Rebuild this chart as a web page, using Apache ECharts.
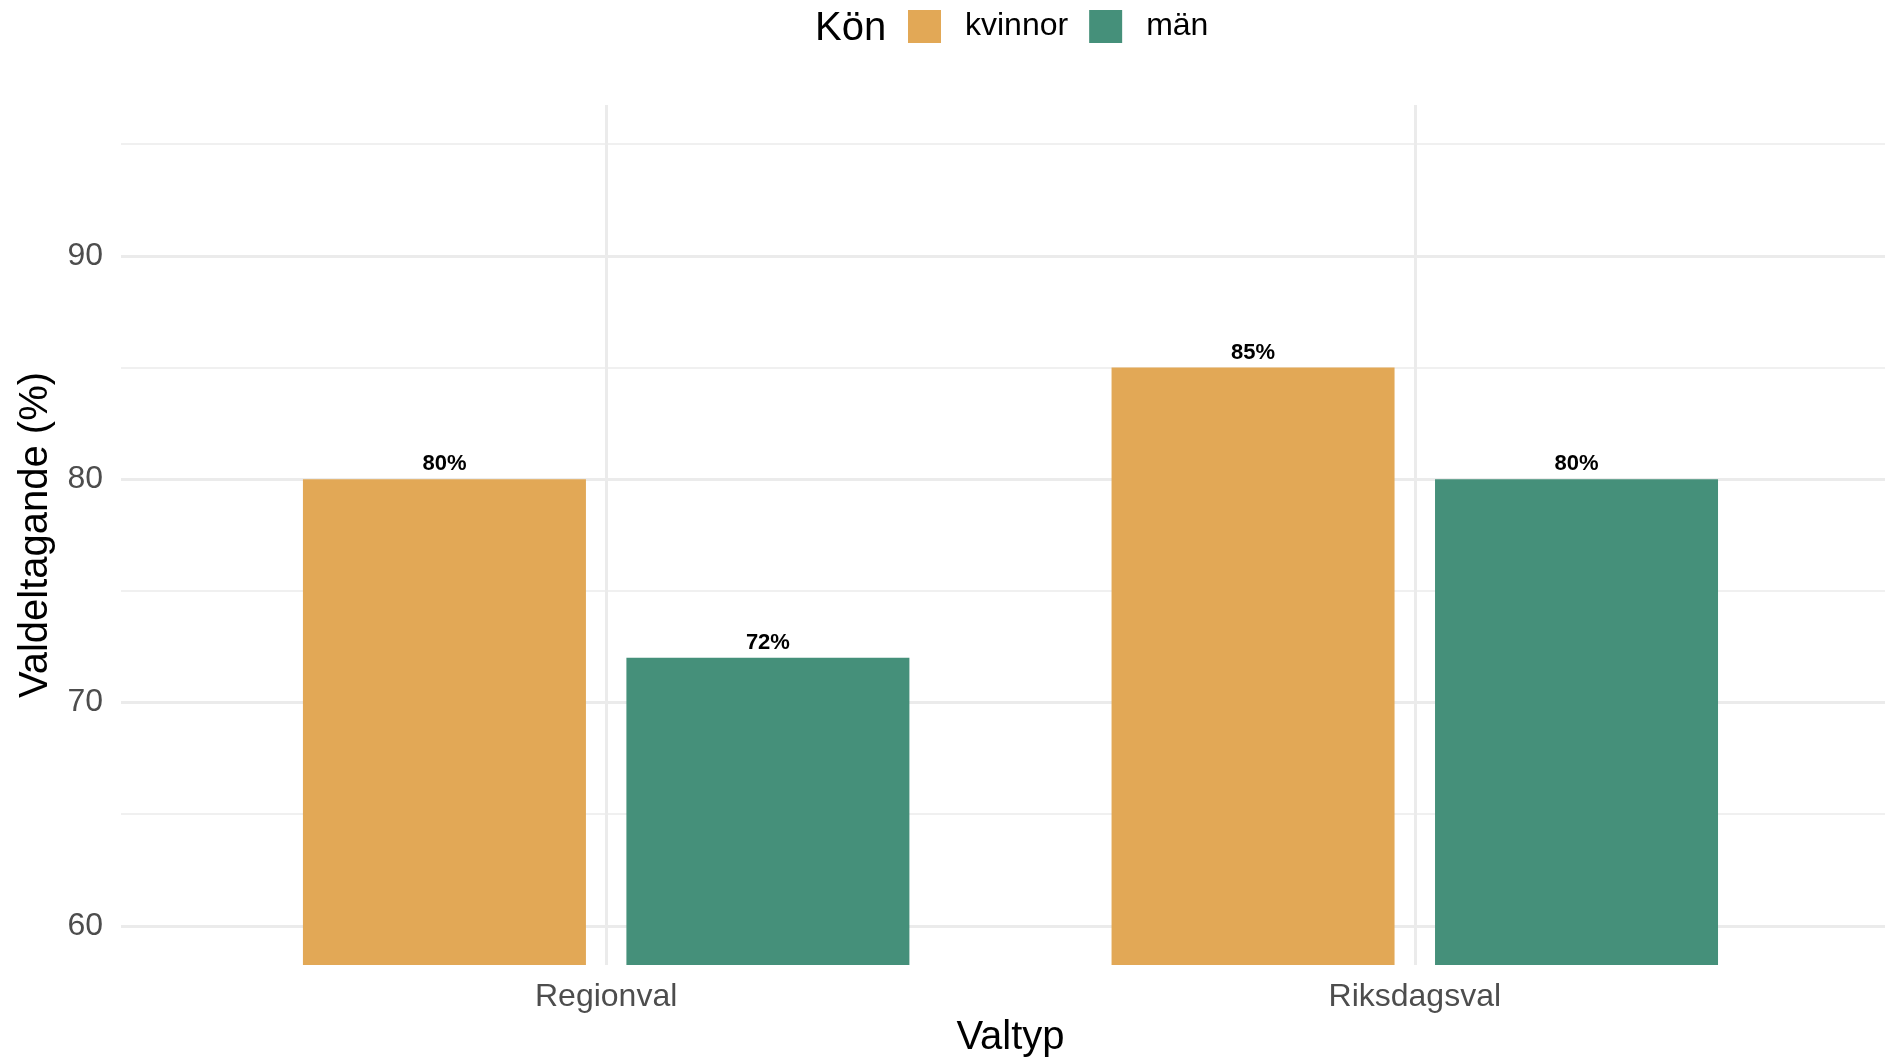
<!DOCTYPE html>
<html>
<head>
<meta charset="utf-8">
<script src="https://cdn.jsdelivr.net/npm/echarts@6/dist/echarts.min.js"></script>
<style>
html,body{margin:0;padding:0;background:#fff;}
#c{width:1885px;height:1060px;}
</style>
</head>
<body>
<div id="c"></div>
<script>
const categories = ['Regionval', 'Riksdagsval'];
const kvinnor = [80, 85];
const man = [72, 80];
const majorTicks = [60, 70, 80, 90];
const minorTicks = [65, 75, 85, 95];
const legendTitle = 'Kön';
const seriesNames = ['kvinnor', 'män'];
const xTitle = 'Valtyp';
const yTitle = 'Valdeltagande (%)';

const FONT = '"Liberation Sans", Arial, Helvetica, sans-serif';
const catPos = categories.map((c, i) => i + 1);

const chart = echarts.init(document.getElementById('c'), null, {renderer: 'canvas'});
const option = {
  animation: false,
  backgroundColor: '#ffffff',
  textStyle: {fontFamily: FONT},
  grid: {left: 121, right: 0, top: 105, bottom: 95, containLabel: false},
  legend: {
    left: 908, top: 10, padding: 0,
    icon: 'rect', itemWidth: 33, itemHeight: 33, itemGap: 21,
    textStyle: {fontSize: 32, color: '#000', fontFamily: FONT, padding: [7, 0, 0, 19]},
    data: seriesNames
  },
  graphic: [
    {type: 'text', x: 815, y: 29, style: {text: legendTitle, fontSize: 40, fontFamily: FONT, fill: '#000', textAlign: 'left', align: 'left', textVerticalAlign: 'middle', verticalAlign: 'middle'}},
    {type: 'text', x: 1010.5, y: 1037.5, style: {text: xTitle, fontSize: 40, fontFamily: FONT, fill: '#000', textAlign: 'center', align: 'center', textVerticalAlign: 'middle', verticalAlign: 'middle'}},
    {type: 'text', x: 36, y: 535, rotation: Math.PI / 2, style: {text: yTitle, fontSize: 40, fontFamily: FONT, fill: '#000', textAlign: 'center', align: 'center', textVerticalAlign: 'middle', verticalAlign: 'middle'}}
  ],
  xAxis: {
    type: 'value', min: 0.4, max: 2.5815,
    axisLine: {show: false},
    axisTick: {show: false, customValues: catPos},
    axisLabel: {
      customValues: catPos, margin: 16, fontSize: 32, color: '#4D4D4D', fontFamily: FONT,
      formatter: v => categories[Math.round(v) - 1] || ''
    },
    splitLine: {show: true, lineStyle: {color: '#EBEBEB', width: 3}}
  },
  yAxis: [
    {
      type: 'value', min: 58.25, max: 96.75,
      axisLine: {show: false},
      axisTick: {show: false, customValues: majorTicks},
      axisLabel: {customValues: majorTicks, margin: 18, fontSize: 32, color: '#4D4D4D', fontFamily: FONT, padding: [7, 0, 0, 0]},
      splitLine: {show: true, lineStyle: {color: '#EBEBEB', width: 3}}
    },
    {
      type: 'value', min: 58.25, max: 96.75, position: 'left',
      axisLine: {show: false},
      axisTick: {show: false, customValues: minorTicks},
      axisLabel: {show: false},
      splitLine: {show: true, lineStyle: {color: '#EBEBEB', width: 1.6}}
    }
  ],
  series: [
    {
      name: seriesNames[0], type: 'bar', yAxisIndex: 0,
      data: kvinnor.map((v, i) => [catPos[i], v]),
      barWidth: 283, barGap: '14.3%',
      itemStyle: {color: '#E2A856'},
      label: {show: true, position: 'top', distance: 4, formatter: p => p.value[1] + '%', fontSize: 22, fontWeight: 'bold', color: '#000', fontFamily: FONT}
    },
    {
      name: seriesNames[1], type: 'bar', yAxisIndex: 0,
      data: man.map((v, i) => [catPos[i], v]),
      barWidth: 283, barGap: '14.3%',
      itemStyle: {color: '#45907A'},
      label: {show: true, position: 'top', distance: 4, formatter: p => p.value[1] + '%', fontSize: 22, fontWeight: 'bold', color: '#000', fontFamily: FONT}
    }
  ]
};
chart.setOption(option);
</script>
</body>
</html>
